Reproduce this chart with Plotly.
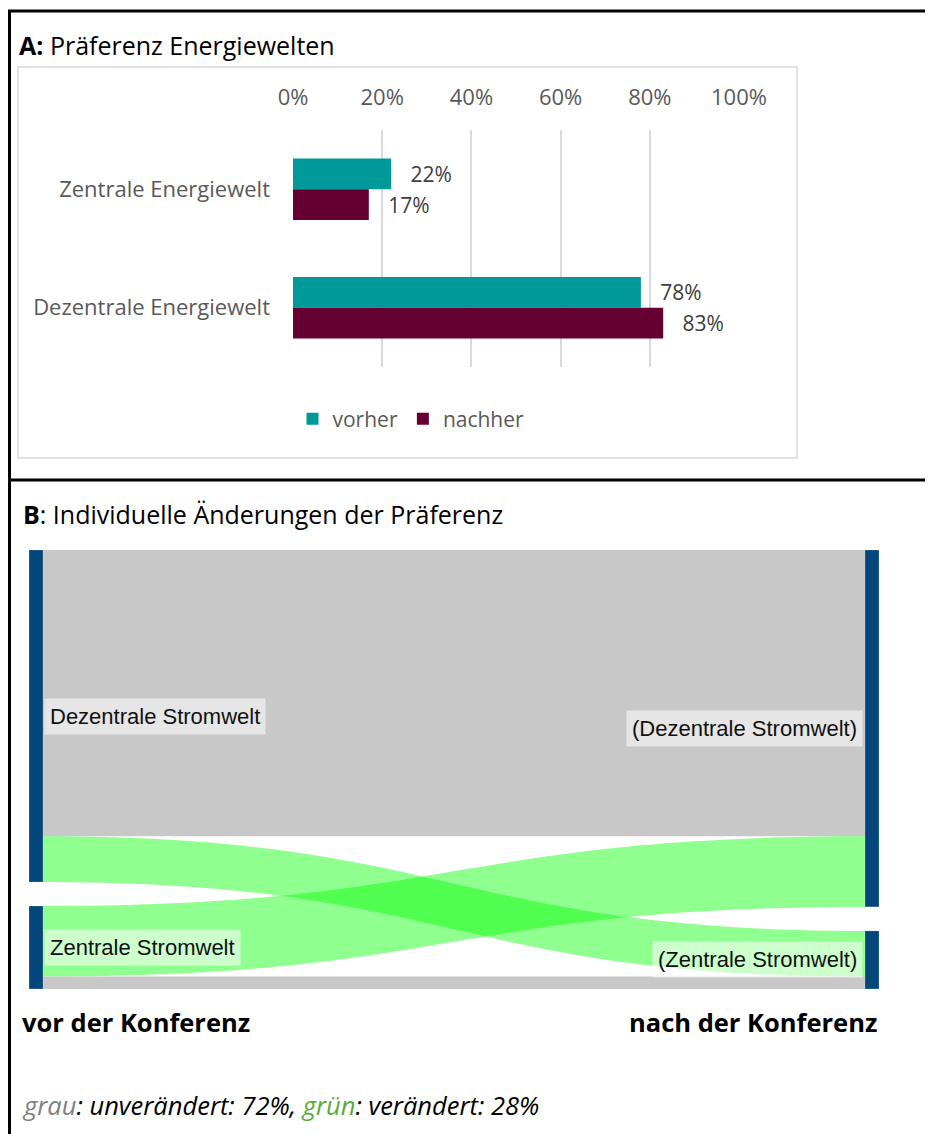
import plotly.graph_objects as go

# the page body has an 8px margin, so the figure is drawn 8px smaller and
# every reference pixel position is shifted by that offset
OFF = 8
W, H = 933 - OFF, 1134 - OFF

# Panel A: Präferenz Energiewelten
categories = ["Zentrale Energiewelt", "Dezentrale Energiewelt"]
vorher = [0.22, 0.78]
nachher = [0.17, 0.83]
x_ticks = [0, 0.2, 0.4, 0.6, 0.8, 1.0]

# Panel B: individuelle Änderungen (Anteile in %)
node_labels = ["Dezentrale Stromwelt", "Zentrale Stromwelt",
               "(Dezentrale Stromwelt)", "(Zentrale Stromwelt)"]
src = [0, 0, 1, 1]
tgt = [2, 3, 2, 3]
vals = [69, 11, 17, 3]
changed = [False, True, True, False]

TEAL = "#009999"
MAROON = "#660033"
NODE = "#05477a"
GREY_TXT = "#595959"
FONT = "Open Sans"


def px(x):
    return (x - OFF) / W


def py(y):
    return 1 - (y - OFF) / H


fig = go.Figure()

for name, vals_bar, col in (("vorher", vorher, TEAL), ("nachher", nachher, MAROON)):
    fig.add_trace(go.Bar(
        y=categories, x=vals_bar, name=name, orientation="h",
        marker=dict(color=col, line=dict(width=0)),
        texttemplate="   %{x:.0%}", textposition="outside",
        textfont=dict(color="#404040", size=21), cliponaxis=False, hoverinfo="skip",
    ))

# sankey
sk_top, sk_bot = 550, 989
pad = 24
thick = 14
fig.add_trace(go.Sankey(
    domain=dict(x=[px(29), px(879)], y=[py(sk_bot), py(sk_top)]),
    arrangement="fixed",
    node=dict(label=["", "", "", ""], color=NODE, pad=pad, thickness=thick,
              line=dict(color="rgba(255,255,255,0.4)", width=0.5)),
    link=dict(source=src, target=tgt, value=vals,
              color=["rgba(0,255,0,0.44)" if c else "rgb(200,200,200)" for c in changed]),
    hoverinfo="skip",
))

# node label boxes, centred on the nodes
ky = (sk_bot - sk_top - pad) / sum(vals)
left_tot = [sum(v for s, v in zip(src, vals) if s == n) for n in (0, 1)]
right_tot = [sum(v for t, v in zip(tgt, vals) if t == n) for n in (2, 3)]
annotations = []
for tots, xa, anc, labels in ((left_tot, px(29 + thick + 1), "left", node_labels[:2]),
                              (right_tot, px(879 - thick - 2), "right", node_labels[2:])):
    y0 = sk_top
    for tot, lab in zip(tots, labels):
        mid = y0 + tot * ky / 2
        annotations.append(dict(
            text=lab, x=xa, y=py(mid), xanchor=anc, yanchor="middle",
            font=dict(family="Liberation Sans, Arial", size=22, color="#111111"),
            bgcolor="rgba(255,255,255,0.55)", borderpad=5,
        ))
        y0 += tot * ky + pad

annotations += [
    dict(text="<b>A:</b> Präferenz Energiewelten", x=px(17), y=py(45), xanchor="left",
         yanchor="middle", font=dict(size=25, color="black", family=FONT)),
    dict(text="<b>B</b>: Individuelle Änderungen der Präferenz", x=px(21), y=py(514),
         xanchor="left", yanchor="middle", font=dict(size=25, color="black", family=FONT)),
    dict(text="<b>vor der Konferenz</b>", x=px(20), y=py(1022), xanchor="left",
         yanchor="middle", font=dict(size=25.5, color="black", family=FONT)),
    dict(text="<b>nach der Konferenz</b>", x=px(879), y=py(1022), xanchor="right",
         yanchor="middle", font=dict(size=25.5, color="black", family=FONT)),
    dict(text="<i><span style='color:#7f7f7f'>grau</span>: unverändert: 72%, "
              "<span style='color:#5aab3a'>grün</span>: verändert: 28%</i>",
         x=px(20), y=py(1105), xanchor="left", yanchor="middle",
         font=dict(size=25.5, color="black", family=FONT)),
]
for a in annotations:
    a.setdefault("xref", "paper")
    a.setdefault("yref", "paper")
    a.setdefault("showarrow", False)

shapes = [
    # inner chart box of panel A
    dict(type="rect", xref="paper", yref="paper", x0=px(18), x1=px(797), y0=py(458), y1=py(67),
         line=dict(color="#d9d9d9", width=1.5)),
    # outer frame
    dict(type="line", xref="paper", yref="paper", x0=px(9.5), x1=px(9.5), y0=py(10), y1=0,
         line=dict(color="black", width=3)),
    dict(type="line", xref="paper", yref="paper", x0=px(8), x1=1, y0=py(11), y1=py(11),
         line=dict(color="black", width=3)),
    dict(type="line", xref="paper", yref="paper", x0=px(8), x1=1, y0=py(480), y1=py(480),
         line=dict(color="black", width=3)),
]

fig.update_layout(
    width=W, height=H,
    margin=dict(l=0, r=0, t=0, b=0, autoexpand=False),
    paper_bgcolor="white", plot_bgcolor="white",
    font=dict(family=FONT, color=GREY_TXT, size=20),
    barmode="group", bargap=0.48, bargroupgap=0,
    xaxis=dict(domain=[px(293), px(739)], range=[0, 1], side="top", automargin=False,
               tickvals=x_ticks, tickformat=".0%", showgrid=True,
               gridcolor="#d9d9d9", gridwidth=2, zeroline=False, showline=False,
               ticklabelstandoff=20, tickfont=dict(size=22, color=GREY_TXT)),
    yaxis=dict(domain=[py(367), py(130)], autorange="reversed", showgrid=False,
               automargin=False, zeroline=False, showline=False, ticklabelstandoff=22,
               tickfont=dict(size=22, color=GREY_TXT)),
    showlegend=True,
    legend=dict(orientation="h", x=px(411), xanchor="center", y=py(419), yanchor="middle",
                font=dict(size=21, color=GREY_TXT), itemwidth=30, traceorder="normal"),
    annotations=annotations,
    shapes=shapes,
)

fig.write_html("out.html")
